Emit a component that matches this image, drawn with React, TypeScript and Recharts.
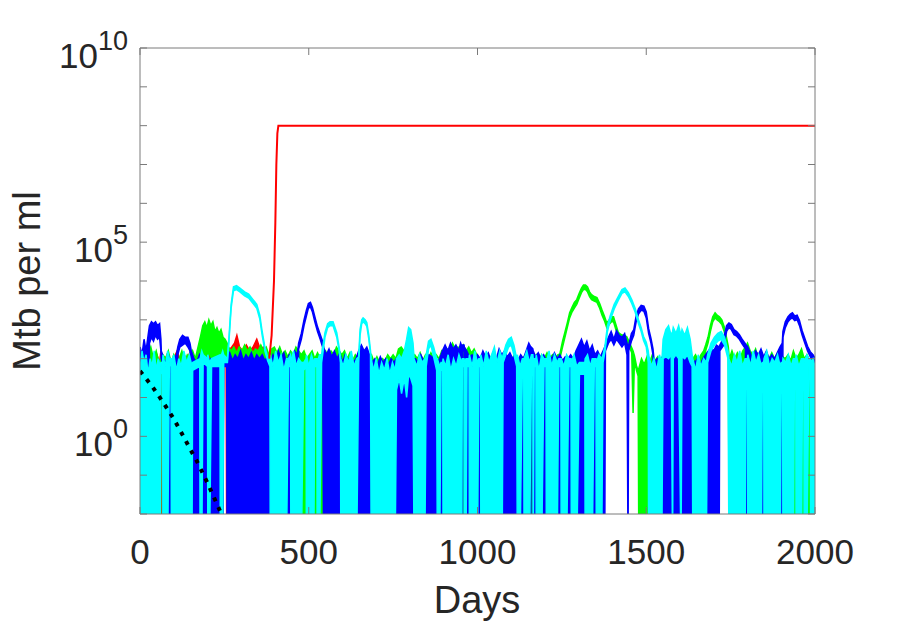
import { ComposedChart, Area, Line, XAxis, YAxis } from 'recharts'

// log10 value used where a run is extinct (0 Mtb); it sits below the axis floor and is clipped
const Z = -3

// every band row is [day, low, high] in log10(Mtb per ml): the range a noisy run covers at that time
const redBand = [
  [0, Z, 1.8], [10, Z, 2.1], [20, Z, 1.9], [30, Z, 2.2], [40, Z, 2.0], [50, Z, 2.1], [58, Z, 1.9], [62, Z, 2.2],
  [70, Z, 1.9], [80, Z, 2.1], [90, Z, 1.8], [100, Z, 2.0], [110, Z, 2.2], [120, Z, 1.9], [130, Z, 2.1], [140, Z, 2.0],
  [150, Z, 2.2], [160, Z, 1.9], [170, Z, 2.1], [180, Z, 2.3], [190, Z, 2.1], [200, Z, 2.3], [210, Z, 2.2], [218, Z, 2.55],
  [226, Z, 2.3], [236, Z, 2.2], [244, Z, 2.1], [248, 1.95, 2.15], [255, 2.0, 2.2], [257, Z, 2.2], [259, 2.0, 2.3],
  [262, Z, 2.2], [272, Z, 2.3], [280, Z, 2.4], [287, Z, 2.6], [295, Z, 2.3], [305, Z, 2.2], [315, Z, 2.35], [325, Z, 2.2],
  [335, Z, 2.3], [346, Z, 2.5], [356, Z, 2.25], [366, Z, 2.3], [376, Z, 2.1], [383, Z, 2.0],
]
// [day, log10] once the red run escapes control
const redRise = [[383, 2.0], [390, 2.6], [397, 4.0], [401, 5.5], [404, 7.0], [407, 7.8], [410, 8.0], [2000, 8.0]]

const greenBand = [
  [0, Z, 2.0], [8, Z, 2.2], [16, Z, 1.9], [24, Z, 2.1], [32, Z, 2.3], [40, Z, 2.0], [48, Z, 2.2], [56, Z, 1.9], [61, Z, 2.0],
  [62, 1.8, 1.95], [67, 1.8, 1.95], [68, Z, 2.1], [76, Z, 2.0], [84, Z, 2.2], [92, Z, 1.9], [100, Z, 2.1], [108, Z, 1.9],
  [116, Z, 2.0], [124, Z, 2.2], [132, Z, 1.9], [140, Z, 2.1], [148, Z, 2.0], [156, Z, 2.2], [164, Z, 2.0], [172, Z, 2.3],
  [180, Z, 2.6], [186, 2.0, 2.85], [192, 2.1, 2.95], [198, 1.9, 2.8], [204, 2.2, 3.0], [210, 2.0, 2.85], [216, 2.1, 2.95],
  [222, 1.9, 2.7], [228, 2.1, 2.8], [234, 2.0, 2.65], [240, 2.1, 2.75], [246, 2.0, 2.55], [252, 2.1, 2.5], [258, 2.0, 2.4],
  [262, Z, 2.3], [270, Z, 2.2], [278, Z, 2.3], [286, Z, 2.15], [294, Z, 2.3], [302, Z, 2.2], [310, Z, 2.35], [318, Z, 2.2],
  [326, Z, 2.3], [334, Z, 2.15], [342, Z, 2.25], [350, Z, 2.2], [358, Z, 2.35], [366, Z, 2.2], [374, Z, 2.3], [382, Z, 2.1],
  [390, Z, 2.25], [398, Z, 2.3], [406, Z, 2.15], [414, Z, 2.3], [422, Z, 2.1], [430, Z, 2.2], [438, Z, 2.05], [446, Z, 2.2],
  [454, Z, 2.1], [462, Z, 2.3], [470, Z, 2.2], [478, Z, 2.1], [486, Z, 2.2], [494, Z, 2.0], [502, Z, 2.1], [510, Z, 2.2],
  [518, Z, 2.0], [526, Z, 2.15], [534, Z, 2.0], [542, Z, 2.1], [550, Z, 2.2], [558, Z, 2.05], [566, Z, 2.2], [574, Z, 2.1],
  [582, Z, 2.3], [590, Z, 2.2], [598, Z, 2.1], [606, Z, 2.2], [614, Z, 2.0], [622, Z, 2.15], [630, Z, 1.95], [638, Z, 2.1],
  [646, Z, 2.0], [654, Z, 2.1], [662, Z, 1.95], [670, Z, 2.1], [678, Z, 2.0], [686, Z, 2.1], [694, Z, 1.9], [702, Z, 2.05],
  [710, Z, 1.9], [718, Z, 2.0], [726, Z, 1.95], [734, Z, 2.1], [742, Z, 2.0], [750, Z, 2.1], [758, Z, 2.0], [766, Z, 2.25],
  [774, Z, 2.3], [782, Z, 2.2], [790, Z, 2.3], [798, Z, 2.1], [806, Z, 2.0], [814, Z, 2.1], [822, Z, 2.0], [830, Z, 2.15],
  [838, Z, 1.95], [846, Z, 2.1], [854, Z, 2.0], [862, Z, 2.15], [870, Z, 2.0], [878, Z, 2.1], [886, Z, 2.0], [894, Z, 2.2],
  [902, Z, 2.1], [910, Z, 2.25], [918, Z, 2.2], [926, Z, 2.4], [934, Z, 2.25], [942, Z, 2.3], [950, Z, 2.2], [958, Z, 2.35],
  [966, Z, 2.2], [974, Z, 2.3], [982, Z, 2.15], [990, Z, 2.25], [998, Z, 2.1], [1006, Z, 2.0], [1014, Z, 2.1], [1022, Z, 1.95],
  [1030, Z, 2.1], [1038, Z, 2.0], [1046, Z, 2.15], [1054, Z, 1.95], [1062, Z, 2.1], [1070, Z, 2.0], [1078, Z, 2.1],
  [1086, Z, 1.95], [1094, Z, 2.05], [1102, Z, 2.0], [1110, Z, 2.1], [1118, Z, 1.95], [1126, Z, 2.05], [1134, Z, 2.0],
  [1142, Z, 2.1], [1150, Z, 2.0], [1158, Z, 2.15], [1166, Z, 2.0], [1174, Z, 2.1], [1182, Z, 1.95], [1190, Z, 2.1],
  [1198, Z, 2.0], [1206, Z, 2.15], [1214, Z, 2.0], [1222, Z, 2.1], [1230, Z, 2.0], [1238, Z, 2.1],
  [1244, 2.0, 2.12], [1252, 2.3, 2.45], [1259, 2.55, 2.68], [1266, 2.8, 2.92], [1273, 3.05, 3.18], [1280, 3.2, 3.32],
  [1287, 3.3, 3.45], [1294, 3.4, 3.52], [1301, 3.55, 3.68], [1308, 3.7, 3.82], [1314, 3.78, 3.9], [1320, 3.78, 3.9],
  [1326, 3.72, 3.85], [1332, 3.6, 3.72], [1338, 3.52, 3.65], [1346, 3.48, 3.6], [1354, 3.45, 3.57], [1362, 3.3, 3.42],
  [1369, 3.12, 3.25], [1376, 2.98, 3.1], [1383, 2.8, 2.92], [1390, 2.88, 3.0], [1397, 2.95, 3.08], [1403, 2.95, 3.08],
  [1410, 2.75, 2.88], [1417, 2.55, 2.68], [1425, 2.5, 2.62], [1433, 2.48, 2.6], [1442, 2.45, 2.57], [1450, 2.3, 2.42],
  [1457, 2.15, 2.28], [1461, 0.6, 2.2], [1465, 1.95, 2.08], [1471, 1.7, 1.82], [1476, 1.55, 1.68],
  [1478, Z, 1.75], [1486, Z, 2.0], [1494, Z, 1.85], [1502, Z, 2.05], [1510, Z, 1.9], [1518, Z, 2.1], [1526, Z, 1.95],
  [1534, Z, 2.05], [1542, Z, 1.9], [1550, Z, 2.1], [1558, Z, 2.0], [1566, Z, 2.15], [1574, Z, 2.0], [1582, Z, 2.1],
  [1590, Z, 1.95], [1598, Z, 2.1], [1606, Z, 2.0], [1614, Z, 2.15], [1622, Z, 2.0], [1630, Z, 2.1], [1638, Z, 2.0],
  [1646, Z, 2.1], [1654, Z, 1.95], [1662, Z, 2.1], [1670, Z, 2.2],
  [1676, 2.2, 2.35], [1683, 2.4, 2.55], [1690, 2.7, 2.85], [1697, 2.95, 3.08], [1704, 3.05, 3.18], [1710, 3.0, 3.12],
  [1717, 2.95, 3.08], [1724, 2.88, 3.0], [1731, 2.7, 2.82], [1737, 2.45, 2.58], [1743, 2.2, 2.32], [1746, Z, 2.0],
  [1754, Z, 2.2], [1762, Z, 2.0], [1770, Z, 2.15], [1778, Z, 2.0], [1786, Z, 2.2], [1794, Z, 2.3], [1800, Z, 2.4],
  [1808, Z, 2.2], [1816, Z, 2.1], [1824, Z, 2.25], [1832, Z, 2.0], [1840, Z, 2.1], [1848, Z, 1.95], [1856, Z, 2.1],
  [1864, Z, 2.0], [1872, Z, 2.15], [1880, Z, 2.0], [1888, Z, 2.1], [1896, Z, 1.95], [1904, Z, 2.05], [1912, Z, 2.0],
  [1920, Z, 2.1], [1928, Z, 1.95], [1936, Z, 2.2], [1944, Z, 2.0], [1952, Z, 2.1], [1960, Z, 2.25], [1968, Z, 2.0],
  [1976, Z, 2.1], [1984, Z, 1.95], [1992, Z, 2.1], [2000, Z, 2.0],
]

const blueBand = [
  [0, Z, 2.3], [6, Z, 2.1], [12, Z, 2.5], [18, Z, 2.2], [24, Z, 2.6],
  [28, 2.4, 2.85], [34, 2.55, 2.95], [40, 2.45, 2.9], [46, 2.6, 2.95], [52, 2.5, 2.85], [58, 2.55, 2.9], [62, 2.2, 2.5],
  [63, 2.0, 2.2], [67, 1.9, 2.1], [68, Z, 2.0], [76, Z, 1.9], [84, Z, 2.1], [92, Z, 1.9], [100, Z, 2.0], [108, Z, 2.1],
  [112, 2.1, 2.3], [118, 2.3, 2.5], [126, 2.35, 2.6], [134, 2.4, 2.55], [142, 2.3, 2.55], [148, 2.2, 2.4], [152, Z, 2.2],
  [160, Z, 2.0], [168, Z, 1.9], [176, Z, 2.1], [184, Z, 1.9], [192, Z, 2.0], [200, Z, 1.9], [208, Z, 2.0], [216, Z, 1.85],
  [224, Z, 1.95], [232, Z, 1.9], [240, Z, 2.0], [246, Z, 1.9], [248, 1.8, 1.9], [257, 1.8, 1.9],
  [258, Z, 2.0], [266, Z, 2.15], [274, Z, 1.95], [282, Z, 2.1], [290, Z, 2.0], [298, Z, 2.2], [306, Z, 1.95], [314, Z, 2.1],
  [322, Z, 2.0], [330, Z, 2.15], [338, Z, 1.95], [346, Z, 2.1], [354, Z, 2.0], [362, Z, 2.1], [370, Z, 1.95], [378, Z, 2.05],
  [386, Z, 1.9], [394, Z, 2.1], [402, Z, 1.9], [410, Z, 2.2], [418, Z, 2.0], [426, Z, 2.15], [434, Z, 1.9], [442, Z, 2.1],
  [450, Z, 2.0], [458, Z, 2.2], [466, Z, 2.1],
  [470, 2.25, 2.4], [478, 2.5, 2.65], [486, 2.85, 3.0], [493, 3.1, 3.25], [499, 3.3, 3.42], [505, 3.33, 3.45],
  [511, 3.2, 3.32], [518, 2.95, 3.08], [526, 2.7, 2.82], [534, 2.5, 2.62], [541, 2.3, 2.45],
  [544, Z, 2.3], [552, Z, 2.1], [560, Z, 2.25], [568, Z, 2.05], [576, Z, 2.2], [584, Z, 2.0], [592, Z, 2.15], [600, Z, 1.9],
  [608, Z, 2.1], [616, Z, 1.95], [624, Z, 2.05], [632, Z, 1.9], [640, Z, 2.0], [648, Z, 2.2], [656, Z, 2.35], [664, Z, 2.2],
  [672, Z, 2.3], [680, Z, 2.1], [688, Z, 1.9], [696, Z, 2.0], [704, Z, 1.85], [712, Z, 2.05], [720, Z, 1.9], [728, Z, 2.0],
  [736, Z, 1.85], [744, Z, 2.0], [752, Z, 1.9], [760, Z, 2.0], [768, Z, 1.9], [776, Z, 2.0], [784, Z, 1.9], [792, Z, 2.0],
  [800, Z, 1.9], [808, Z, 2.0], [816, Z, 2.0], [824, Z, 1.9], [832, Z, 2.1], [840, Z, 1.95], [848, Z, 2.0], [856, Z, 2.1],
  [864, Z, 2.05], [872, Z, 2.0], [880, Z, 1.9], [888, Z, 2.0], [896, Z, 2.2], [904, Z, 2.35], [912, Z, 2.2], [920, Z, 2.4],
  [928, Z, 2.25], [936, Z, 2.35], [944, Z, 2.2], [950, Z, 2.4], [954, Z, 2.3], [955, 2.2, 2.35], [960, 2.2, 2.35],
  [961, Z, 2.3], [968, Z, 2.2], [976, Z, 2.05], [984, Z, 2.1], [992, Z, 1.95], [1000, Z, 2.1], [1008, Z, 2.0],
  [1016, Z, 2.2], [1024, Z, 2.05], [1032, Z, 2.15], [1040, Z, 1.95], [1048, Z, 2.1], [1056, Z, 2.0], [1064, Z, 2.25],
  [1072, Z, 2.1], [1080, Z, 2.2], [1088, Z, 2.05], [1096, Z, 2.15], [1104, Z, 2.0], [1112, Z, 2.1], [1120, Z, 1.95],
  [1128, Z, 2.1], [1136, Z, 2.0], [1144, Z, 2.2], [1152, Z, 2.4], [1158, Z, 2.3], [1159, 2.2, 2.3], [1164, 2.1, 2.25],
  [1165, Z, 2.2], [1172, Z, 2.05], [1180, Z, 2.15], [1188, Z, 2.0], [1196, Z, 2.1], [1204, Z, 1.95], [1212, Z, 2.1],
  [1220, Z, 2.0], [1228, Z, 2.15], [1236, Z, 2.0], [1244, Z, 2.1], [1252, Z, 1.95], [1260, Z, 2.05], [1268, Z, 2.0],
  [1276, Z, 2.1], [1284, Z, 2.0], [1292, Z, 2.2], [1300, Z, 2.35], [1308, Z, 2.5], [1316, Z, 2.3], [1324, Z, 2.45],
  [1332, Z, 2.2], [1340, Z, 2.35], [1348, Z, 2.1], [1356, Z, 2.2], [1364, Z, 2.05], [1372, Z, 2.2], [1377, Z, 2.3],
  [1379, 2.2, 2.35], [1388, 2.4, 2.55], [1396, 2.5, 2.7], [1404, 2.35, 2.5], [1412, 2.5, 2.72], [1420, 2.4, 2.6],
  [1428, 2.3, 2.55], [1436, 2.4, 2.65], [1443, 2.1, 2.4], [1446, Z, 2.3], [1448, 2.2, 2.35], [1456, 2.45, 2.65],
  [1463, 2.6, 2.75], [1470, 2.95, 3.1], [1477, 3.15, 3.28], [1485, 3.25, 3.37], [1493, 3.22, 3.35], [1500, 3.05, 3.2],
  [1507, 2.65, 2.78], [1514, 2.4, 2.52], [1520, 2.1, 2.25], [1524, Z, 1.9],
  [1532, Z, 2.0], [1540, Z, 1.9], [1548, Z, 2.05], [1556, Z, 2.1], [1564, Z, 2.0], [1572, Z, 2.15], [1580, Z, 1.95],
  [1588, Z, 2.1], [1596, Z, 2.0], [1604, Z, 2.15], [1612, Z, 1.95], [1620, Z, 2.05], [1628, Z, 1.9], [1636, Z, 2.0],
  [1644, Z, 1.9], [1652, Z, 2.0], [1660, Z, 1.85], [1668, Z, 2.0], [1676, Z, 2.1], [1684, Z, 2.2], [1692, Z, 2.3],
  [1700, Z, 2.2], [1708, Z, 2.35], [1716, Z, 2.3],
  [1718, 2.2, 2.35], [1730, 2.35, 2.55], [1738, 2.7, 2.85], [1745, 2.8, 2.92], [1752, 2.75, 2.88], [1760, 2.62, 2.75],
  [1768, 2.58, 2.7], [1776, 2.5, 2.62], [1784, 2.38, 2.5], [1794, 2.25, 2.38], [1795, Z, 2.36], [1800, Z, 2.32],
  [1801, 2.15, 2.3], [1806, 2.05, 2.2], [1812, 1.9, 2.05],
  [1816, Z, 2.0], [1824, Z, 2.2], [1832, Z, 2.1], [1840, Z, 2.25], [1848, Z, 2.05], [1856, Z, 2.2], [1864, Z, 2.0],
  [1872, Z, 2.1], [1880, Z, 2.0], [1888, Z, 2.15], [1896, Z, 2.3], [1903, Z, 2.4],
  [1905, 2.55, 2.7], [1912, 2.8, 2.95], [1920, 2.95, 3.08], [1927, 3.02, 3.15], [1933, 3.05, 3.18], [1940, 2.98, 3.1],
  [1947, 3.0, 3.12], [1954, 2.85, 2.98], [1962, 2.6, 2.72], [1970, 2.4, 2.52], [1978, 2.2, 2.32], [1986, 2.05, 2.18],
  [1994, 1.95, 2.1], [1998, 0.9, 2.05], [2000, 1.4, 1.9],
]

const cyanBand = [
  [0, Z, 1.7], [6, Z, 2.2], [12, Z, 1.9], [18, Z, 2.1], [24, Z, 1.6], [30, Z, 2.0], [36, Z, 1.8], [42, Z, 2.2],
  [48, Z, 1.7], [54, Z, 2.0], [60, Z, 1.8], [62, 1.7, 1.9], [67, 1.6, 1.9], [68, Z, 2.1], [75, Z, 1.8], [82, Z, 2.2],
  [87, 1.9, 2.0], [92, 1.8, 2.0], [93, Z, 1.9], [100, Z, 2.1], [108, Z, 1.7], [115, Z, 2.0], [122, Z, 1.8], [130, Z, 2.2],
  [138, Z, 1.9], [146, Z, 2.1], [154, Z, 1.8], [156, 1.7, 1.9], [177, 1.8, 2.0], [178, Z, 2.0], [183, Z, 2.2],
  [187, 1.9, 2.1], [200, 1.8, 2.0], [201, Z, 2.1], [206, Z, 1.9], [212, 1.8, 2.0], [237, 1.8, 2.1], [238, Z, 2.0],
  [245, Z, 2.2], [248, 1.9, 2.1],
  [259, 1.9, 2.0], [264, 2.5, 2.6], [270, 3.3, 3.4], [277, 3.75, 3.85], [286, 3.78, 3.88], [296, 3.72, 3.82],
  [310, 3.62, 3.72], [322, 3.56, 3.66], [335, 3.42, 3.52], [346, 3.3, 3.4], [355, 3.02, 3.12], [362, 2.6, 2.7],
  [370, 2.2, 2.3], [378, 1.95, 2.05], [385, 1.8, 1.95],
  [386, Z, 2.1], [394, Z, 1.8], [402, Z, 2.2], [410, Z, 1.9], [418, Z, 2.1], [426, Z, 1.7], [434, Z, 2.0],
  [440, 1.8, 2.0], [446, 1.8, 2.1], [447, Z, 1.9], [455, Z, 2.2], [463, Z, 1.8], [470, Z, 2.0], [478, Z, 1.9],
  [485, 1.7, 1.9], [492, 1.8, 2.0], [493, Z, 2.1], [500, Z, 1.8], [508, Z, 2.1], [515, Z, 1.9], [518, 1.8, 2.0],
  [524, 1.8, 2.0], [525, Z, 1.9], [532, Z, 2.1],
  [538, 1.9, 2.1], [548, 2.55, 2.67], [556, 2.8, 2.9], [563, 2.85, 2.95], [572, 2.85, 2.95], [583, 2.55, 2.67],
  [590, 2.2, 2.3], [594, 1.9, 2.05],
  [595, Z, 2.0], [602, Z, 1.8], [610, Z, 2.1], [618, Z, 1.9], [626, Z, 2.2], [634, Z, 1.8], [642, Z, 2.0],
  [648, 1.9, 2.05], [652, 2.6, 2.75], [657, 2.9, 3.0], [661, 2.95, 3.05], [667, 2.9, 3.0], [672, 2.83, 2.93],
  [678, 2.5, 2.6], [683, 2.1, 2.2],
  [685, Z, 2.0], [692, Z, 1.7], [700, Z, 2.0], [708, Z, 1.6], [716, Z, 1.9], [724, Z, 1.7], [732, Z, 2.0], [740, Z, 1.6],
  [748, Z, 1.9], [756, Z, 1.7],
  [760, 1.2, 2.0], [768, 1.5, 2.1], [775, 1.1, 2.0], [783, 1.5, 2.2], [790, 1.0, 2.5], [796, 1.6, 2.8], [802, 1.5, 2.75],
  [809, 1.3, 2.4],
  [812, Z, 2.0], [820, Z, 1.8], [828, Z, 2.1], [836, Z, 1.9], [844, Z, 2.0],
  [848, 1.8, 2.1], [855, 2.25, 2.45], [862, 2.35, 2.5], [870, 2.05, 2.3], [879, 1.7, 2.0],
  [881, Z, 2.0], [888, Z, 1.8], [892, 1.7, 1.9], [897, 1.7, 1.9], [898, Z, 2.0], [905, Z, 1.8], [913, Z, 2.1],
  [921, Z, 1.7], [929, Z, 2.0], [937, Z, 1.8], [945, Z, 2.1], [953, Z, 1.9], [955, 1.8, 2.0], [960, 1.8, 2.0],
  [961, Z, 1.9], [966, Z, 2.0], [969, 1.8, 2.0], [975, 1.8, 2.0], [976, Z, 2.1], [984, Z, 1.8], [992, Z, 2.2],
  [1000, Z, 1.9], [1004, 1.8, 2.0], [1009, 1.8, 2.0], [1010, Z, 2.1], [1018, Z, 1.8], [1026, Z, 2.2], [1034, Z, 1.9],
  [1042, Z, 2.1], [1050, Z, 2.3], [1058, Z, 1.9], [1066, Z, 2.2], [1073, Z, 2.0],
  [1076, 1.9, 2.1], [1084, 2.1, 2.35], [1092, 2.3, 2.5], [1100, 2.35, 2.55], [1108, 2.1, 2.35], [1116, 1.8, 2.0],
  [1118, Z, 2.1], [1126, Z, 1.8], [1133, 1.8, 2.0], [1137, 1.8, 2.0], [1138, Z, 2.0], [1146, Z, 2.2], [1154, Z, 1.9],
  [1160, 1.9, 2.1], [1164, 1.9, 2.1], [1165, Z, 2.0], [1168, 1.8, 2.0], [1173, 1.8, 2.0], [1174, Z, 2.1],
  [1182, Z, 1.7], [1190, Z, 2.1], [1197, 1.8, 2.0], [1203, 1.8, 2.0], [1204, Z, 1.9], [1212, Z, 2.2], [1220, Z, 1.8],
  [1228, Z, 2.1], [1236, Z, 1.9], [1241, 1.8, 2.0], [1247, 1.8, 2.0], [1248, Z, 2.0], [1256, Z, 1.8], [1264, Z, 2.1],
  [1271, 1.8, 2.0], [1277, 1.8, 2.0], [1278, Z, 1.9], [1286, Z, 2.1], [1294, Z, 1.8], [1302, 1.6, 1.9], [1318, 1.6, 1.9],
  [1319, Z, 2.0], [1326, Z, 2.1], [1334, Z, 1.8], [1340, Z, 2.0], [1346, 1.8, 2.0], [1351, 1.8, 2.0], [1352, Z, 1.9],
  [1360, Z, 2.1], [1368, Z, 2.0],
  [1372, 1.9, 2.1], [1378, 2.2, 2.35], [1385, 2.7, 2.85], [1393, 2.98, 3.1], [1405, 3.28, 3.4], [1417, 3.5, 3.6],
  [1428, 3.68, 3.78], [1437, 3.72, 3.82], [1447, 3.6, 3.7], [1457, 3.42, 3.52], [1467, 3.2, 3.3], [1477, 2.9, 3.0],
  [1485, 2.7, 2.8], [1492, 2.47, 2.57], [1500, 2.3, 2.42], [1506, 1.9, 2.2],
  [1507, Z, 2.1], [1515, Z, 1.8], [1523, Z, 2.0], [1531, Z, 1.7], [1539, Z, 2.1], [1546, Z, 1.9],
  [1550, 2.0, 2.5], [1558, 2.05, 2.75], [1566, 2.0, 2.85], [1574, 2.1, 2.6], [1578, Z, 2.7], [1580, 2.0, 2.8],
  [1588, 2.1, 2.65], [1596, 2.0, 2.85], [1603, Z, 2.6], [1606, 2.05, 2.75], [1614, 2.0, 2.6], [1622, 2.1, 2.8],
  [1630, 1.9, 2.5], [1636, 1.8, 2.1],
  [1638, Z, 2.0], [1646, Z, 1.7], [1654, Z, 2.1], [1662, Z, 1.8], [1670, Z, 2.0], [1678, Z, 1.9],
  [1682, 1.9, 2.1], [1692, 2.2, 2.4], [1702, 2.35, 2.55], [1712, 2.45, 2.65], [1722, 2.5, 2.7], [1732, 2.35, 2.55],
  [1742, 2.0, 2.2],
  [1745, Z, 2.0], [1753, Z, 1.8], [1761, Z, 2.1], [1769, Z, 1.9], [1777, Z, 2.2], [1785, Z, 1.8], [1793, Z, 2.0],
  [1796, 1.8, 2.0], [1800, 1.8, 2.0], [1801, Z, 2.1], [1809, Z, 1.8], [1817, Z, 2.2], [1825, Z, 1.9], [1833, Z, 2.1],
  [1841, Z, 1.8], [1844, 1.7, 1.9], [1848, 1.7, 1.9], [1849, Z, 2.0], [1857, Z, 2.2], [1865, Z, 1.8], [1873, Z, 2.0],
  [1881, Z, 1.9], [1889, Z, 2.1], [1897, Z, 1.8], [1900, 1.7, 1.9], [1904, 1.7, 1.9], [1905, Z, 2.0], [1913, Z, 1.9],
  [1921, Z, 2.1], [1929, Z, 1.8], [1936, Z, 2.0], [1939, 1.8, 2.0], [1943, 1.8, 2.0], [1944, Z, 2.1], [1952, Z, 1.8],
  [1960, Z, 2.0], [1963, 1.8, 2.0], [1967, 1.8, 2.0], [1968, Z, 1.9], [1976, Z, 2.1], [1982, 1.8, 2.0], [1986, 1.8, 2.0],
  [1987, Z, 1.9], [1994, Z, 2.0], [2000, Z, 1.8],
]

// [day, log10] deterministic clearance curve (black dotted)
const clearance = [[0, 1.68], [35, 1.3], [69, 0.87], [100, 0.45], [128, 0.01], [150, -0.35], [168, -0.63], [200, -1.2], [235, -1.88], [260, -2.4]]

const xTicks = [0, 500, 1000, 1500, 2000]
const yTickExps = [-2, -1, 0, 1, 2, 3, 4, 5, 6, 7, 8, 9, 10]
const yLabelExps = [0, 5, 10]

const toBand = (rows: number[][]) => rows.map(([day, lo, hi]) => ({ day, band: [10 ** lo, 10 ** hi] }))
const toLine = (rows: number[][]) => rows.map(([day, v]) => ({ day, value: 10 ** v }))

const AXIS = '#7a7a7a'
const TEXT = '#262626'
const FONT = '"Liberation Sans", Arial, Helvetica, sans-serif'
const TICK_LEN = 7

// plot box: x 140..815, y 48..514 (axes are 1px thick so they still render)
function LeftTick({ y, payload }: any) {
  const exp = Math.round(Math.log10(payload.value))
  return (
    <g>
      <line x1={140} y1={y} x2={140 + TICK_LEN} y2={y} stroke={AXIS} />
      {yLabelExps.includes(exp) && (
        <text x={128} y={y + 20} textAnchor="end" fill={TEXT} fontSize={35} fontFamily={FONT}>
          10<tspan dy={-18} fontSize={27}>{exp}</tspan>
        </text>
      )}
    </g>
  )
}

function RightTick({ y }: any) {
  return <line x1={815} y1={y} x2={815 - TICK_LEN} y2={y} stroke={AXIS} />
}

function BottomTick({ x, payload }: any) {
  return (
    <g>
      <line x1={x} y1={514} x2={x} y2={514 - TICK_LEN} stroke={AXIS} />
      <text x={x} y={564} textAnchor="middle" fill={TEXT} fontSize={35} fontFamily={FONT}>
        {payload.value}
      </text>
    </g>
  )
}

function TopTick({ x }: any) {
  return <line x1={x} y1={48} x2={x} y2={48 + TICK_LEN} stroke={AXIS} />
}

const series = [
  { name: 'red', color: '#ff0000', rows: redBand },
  { name: 'green', color: '#00ff00', rows: greenBand },
  { name: 'blue', color: '#0000ff', rows: blueBand },
  { name: 'cyan', color: '#00ffff', rows: cyanBand },
]

function band(s: { name: string; color: string; rows: number[][] }) {
  return (
    <Area
      key={s.name}
      xAxisId="bottom"
      yAxisId="left"
      data={toBand(s.rows)}
      dataKey="band"
      type="linear"
      stroke={s.color}
      strokeWidth={1.5}
      fill={s.color}
      fillOpacity={1}
      dot={false}
      activeDot={false}
      isAnimationActive={false}
    />
  )
}

export default function App() {
  const yTicks = yTickExps.map((e) => 10 ** e)
  return (
    <div style={{ position: 'absolute', left: 0, top: 0, width: 900, height: 623, background: '#fff' }}>
      <ComposedChart width={900} height={623} margin={{ top: 47, right: 84, bottom: 108, left: 139 }}>
        <XAxis
          xAxisId="bottom"
          dataKey="day"
          type="number"
          domain={[0, 2000]}
          allowDataOverflow
          ticks={xTicks}
          interval={0}
          height={1}
          tickSize={0}
          tickMargin={0}
          tick={<BottomTick />}
          axisLine={{ stroke: AXIS }}
        />
        <XAxis
          xAxisId="top"
          orientation="top"
          dataKey="day"
          type="number"
          domain={[0, 2000]}
          allowDataOverflow
          ticks={xTicks}
          interval={0}
          height={1}
          tickSize={0}
          tickMargin={0}
          tick={<TopTick />}
          axisLine={{ stroke: AXIS }}
        />
        <YAxis
          yAxisId="left"
          scale="log"
          type="number"
          domain={[1e-2, 1e10]}
          allowDataOverflow
          ticks={yTicks}
          interval={0}
          width={1}
          tickSize={0}
          tickMargin={0}
          tick={<LeftTick />}
          axisLine={{ stroke: AXIS }}
        />
        <YAxis
          yAxisId="right"
          orientation="right"
          scale="log"
          type="number"
          domain={[1e-2, 1e10]}
          allowDataOverflow
          ticks={yTicks}
          interval={0}
          width={1}
          tickSize={0}
          tickMargin={0}
          tick={<RightTick />}
          axisLine={{ stroke: AXIS }}
        />
        {band(series[0])}
        <Line
          xAxisId="bottom"
          yAxisId="left"
          data={toLine(redRise)}
          dataKey="value"
          type="linear"
          stroke="#ff0000"
          strokeWidth={2}
          dot={false}
          activeDot={false}
          isAnimationActive={false}
        />
        {series.slice(1).map(band)}
        <Line
          xAxisId="bottom"
          yAxisId="left"
          data={toLine(clearance)}
          dataKey="value"
          type="linear"
          stroke="#000"
          strokeWidth={4}
          strokeDasharray="4 6.5"
          dot={false}
          activeDot={false}
          isAnimationActive={false}
        />
      </ComposedChart>
      <svg width={900} height={623} style={{ position: 'absolute', left: 0, top: 0, pointerEvents: 'none' }}>
        <text x={477} y={613} textAnchor="middle" fill={TEXT} fontSize={38} fontFamily={FONT}>
          Days
        </text>
        <text
          x={40}
          y={281}
          transform="rotate(-90 40 281)"
          textAnchor="middle"
          fill={TEXT}
          fontSize={38}
          fontFamily={FONT}
        >
          Mtb per ml
        </text>
      </svg>
    </div>
  )
}
